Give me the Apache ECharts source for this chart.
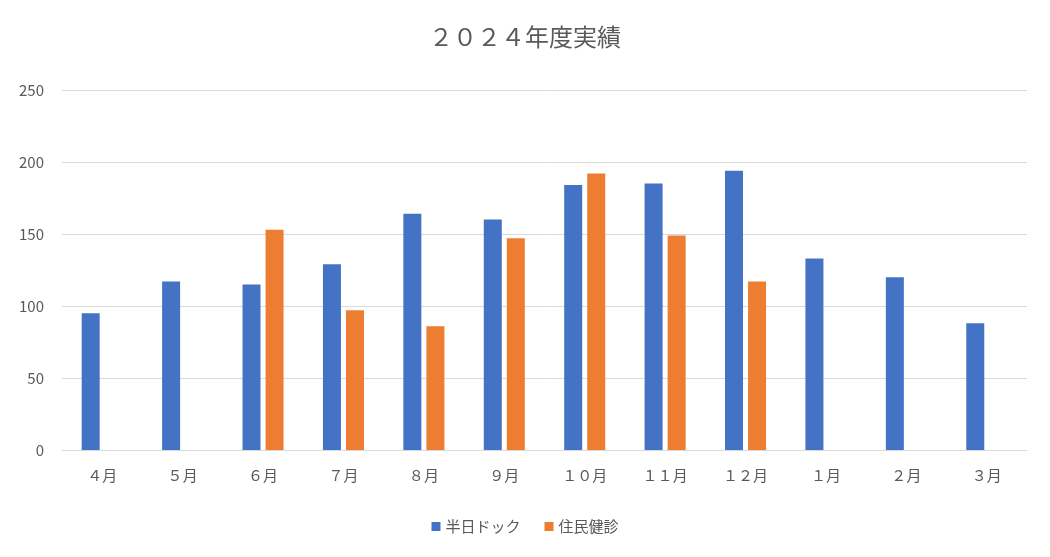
<!DOCTYPE html>
<html>
<head>
<meta charset="utf-8">
<script src="https://cdn.jsdelivr.net/npm/echarts@6/dist/echarts.min.js"></script>
<style>
  * { margin: 0; padding: 0; }
  #chart { width: 1050px; height: 557px; background: #fff; }
</style>
</head>
<body>
<div id="chart"></div>
<script>
// 月ごとのデータ
const months = ['４月', '５月', '６月', '７月', '８月', '９月', '１０月', '１１月', '１２月', '１月', '２月', '３月'];
const dockValues = [95, 117, 115, 129, 164, 160, 184, 185, 194, 133, 120, 88];
const kenshinValues = [null, null, 153, 97, 86, 147, 192, 149, 117, null, null, null];

const font = '"Noto Sans CJK JP", sans-serif';
const chart = echarts.init(document.getElementById('chart'));
chart.setOption({
  animation: false,
  title: {
    text: '２０２４年度実績',
    left: 'center',
    top: 20,
    textStyle: { fontFamily: font, fontSize: 24, fontWeight: 'normal', color: '#595959' }
  },
  legend: {
    bottom: 18,
    itemWidth: 9,
    itemHeight: 9,
    itemGap: 24,
    icon: 'rect',
    textStyle: { fontFamily: font, fontSize: 15, color: '#595959' }
  },
  grid: { left: 62, right: 23, top: 90, bottom: 107 },
  xAxis: {
    type: 'category',
    data: months,
    axisTick: { show: false },
    axisLine: { lineStyle: { color: '#d9d9d9' } },
    axisLabel: { fontFamily: font, fontSize: 15, color: '#595959', margin: 18 }
  },
  yAxis: {
    type: 'value',
    min: 0,
    max: 250,
    interval: 50,
    axisLabel: { fontFamily: font, fontSize: 15, color: '#595959', margin: 18 },
    splitLine: { lineStyle: { color: '#d9d9d9' } }
  },
  series: [
    { name: '半日ドック', type: 'bar', data: dockValues, barWidth: 18, barGap: '28%', itemStyle: { color: '#4472c4' } },
    { name: '住民健診', type: 'bar', data: kenshinValues, barWidth: 18, itemStyle: { color: '#ed7d31' } }
  ]
});
</script>
</body>
</html>
